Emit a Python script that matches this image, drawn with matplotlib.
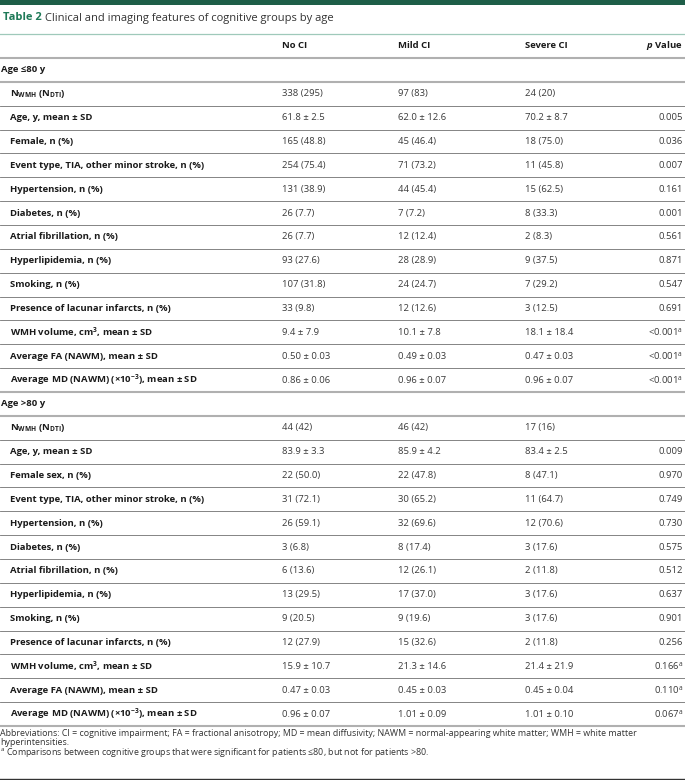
import matplotlib.pyplot as plt
from matplotlib.patches import Rectangle

plt.rcParams['font.family'] = ['Open Sans', 'DejaVu Sans']
plt.rcParams['mathtext.fontset'] = 'custom'
plt.rcParams['mathtext.rm'] = 'Open Sans'
plt.rcParams['mathtext.bf'] = 'Open Sans:bold'
plt.rcParams['mathtext.it'] = 'Open Sans:italic:bold'

# table data
columns = ['No CI', 'Mild CI', 'Severe CI']
groups = ['Age ≤80 y', 'Age >80 y']

labels_young = [r'N$_{\mathbf{WMH}}$ (N$_{\mathbf{DTI}}$)', 'Age, y, mean ± SD', 'Female, n (%)',
                'Event type, TIA, other minor stroke, n (%)', 'Hypertension, n (%)', 'Diabetes, n (%)',
                'Atrial fibrillation, n (%)', 'Hyperlipidemia, n (%)', 'Smoking, n (%)',
                'Presence of lacunar infarcts, n (%)', r'WMH volume, cm$^{\mathbf{3}}$, mean ± SD',
                'Average FA (NAWM), mean ± SD', r'Average MD (NAWM) (×10$^{\mathbf{-3}}$), mean ± SD']
labels_old = [r'N$_{\mathbf{WMH}}$ (N$_{\mathbf{DTI}}$)', 'Age, y, mean ± SD', 'Female sex, n (%)',
              'Event type, TIA, other minor stroke, n (%)', 'Hypertension, n (%)', 'Diabetes, n (%)',
              'Atrial fibrillation, n (%)', 'Hyperlipidemia, n (%)', 'Smoking, n (%)',
              'Presence of lacunar infarcts, n (%)', r'WMH volume, cm$^{\mathbf{3}}$, mean ± SD',
              'Average FA (NAWM), mean ± SD', r'Average MD (NAWM) (×10$^{\mathbf{-3}}$), mean ± SD']

no_ci_young = ['338 (295)', '61.8 ± 2.5', '165 (48.8)', '254 (75.4)', '131 (38.9)', '26 (7.7)',
               '26 (7.7)', '93 (27.6)', '107 (31.8)', '33 (9.8)', '9.4 ± 7.9', '0.50 ± 0.03', '0.86 ± 0.06']
mild_ci_young = ['97 (83)', '62.0 ± 12.6', '45 (46.4)', '71 (73.2)', '44 (45.4)', '7 (7.2)',
                 '12 (12.4)', '28 (28.9)', '24 (24.7)', '12 (12.6)', '10.1 ± 7.8', '0.49 ± 0.03', '0.96 ± 0.07']
severe_ci_young = ['24 (20)', '70.2 ± 8.7', '18 (75.0)', '11 (45.8)', '15 (62.5)', '8 (33.3)',
                   '2 (8.3)', '9 (37.5)', '7 (29.2)', '3 (12.5)', '18.1 ± 18.4', '0.47 ± 0.03', '0.96 ± 0.07']
p_young = ['', '0.005', '0.036', '0.007', '0.161', '0.001', '0.561', '0.871', '0.547', '0.691',
           '<0.001$^{\\mathrm{a}}$', '<0.001$^{\\mathrm{a}}$', '<0.001$^{\\mathrm{a}}$']

no_ci_old = ['44 (42)', '83.9 ± 3.3', '22 (50.0)', '31 (72.1)', '26 (59.1)', '3 (6.8)',
             '6 (13.6)', '13 (29.5)', '9 (20.5)', '12 (27.9)', '15.9 ± 10.7', '0.47 ± 0.03', '0.96 ± 0.07']
mild_ci_old = ['46 (42)', '85.9 ± 4.2', '22 (47.8)', '30 (65.2)', '32 (69.6)', '8 (17.4)',
               '12 (26.1)', '17 (37.0)', '9 (19.6)', '15 (32.6)', '21.3 ± 14.6', '0.45 ± 0.03', '1.01 ± 0.09']
severe_ci_old = ['17 (16)', '83.4 ± 2.5', '8 (47.1)', '11 (64.7)', '12 (70.6)', '3 (17.6)',
                 '2 (11.8)', '3 (17.6)', '3 (17.6)', '2 (11.8)', '21.4 ± 21.9', '0.45 ± 0.04', '1.01 ± 0.10']
p_old = ['', '0.009', '0.970', '0.749', '0.730', '0.575', '0.512', '0.637', '0.901', '0.256',
         '0.166$^{\\mathrm{a}}$', '0.110$^{\\mathrm{a}}$', '0.067$^{\\mathrm{a}}$']

footer = ['Abbreviations: CI = cognitive impairment; FA = fractional anisotropy; MD = mean diffusivity; '
          'NAWM = normal-appearing white matter; WMH = white matter',
          'hyperintensities.',
          '$^{\\mathrm{a}}$ Comparisons between cognitive groups that were significant for patients ≤80, '
          'but not for patients >80.']

W, H = 685, 780
fig = plt.figure(figsize=(W / 100, H / 100), dpi=100)
ax = fig.add_axes([0, 0, 1, 1])
ax.set_xlim(0, W)
ax.set_ylim(H, 0)
ax.axis('off')

green = '#1f7a58'
fs = 6.8
col_x = [282, 398, 525]
p_x = 683

# top bar and title
ax.add_patch(Rectangle((0, 0), W, 4.5, color='#1e5e48', lw=0))
t1 = ax.text(3, 18, 'Table 2', fontsize=8.0, fontweight='bold', color=green, va='center')
ax.annotate('Clinical and imaging features of cognitive groups by age', xy=(1, 0), xycoords=t1,
            xytext=(2.5, 0), textcoords='offset points', fontsize=8.0, color='#333333', va='bottom')
ax.axhline(34, color='#9fc9ba', lw=0.9)

# header
for x, c in zip(col_x, columns):
    ax.text(x, 46, c, fontsize=fs, fontweight='bold', color='#1a1a1a', va='center')
ax.text(p_x, 46, r'$\mathit{p}$ Value', fontsize=fs, fontweight='bold', color='#1a1a1a',
        va='center', ha='right')

top = 58
rh = (726 - top) / 28
rows = []
for g, labs, a, b, c, p in [(groups[0], labels_young, no_ci_young, mild_ci_young, severe_ci_young, p_young),
                            (groups[1], labels_old, no_ci_old, mild_ci_old, severe_ci_old, p_old)]:
    rows.append((g, None))
    for i in range(len(labs)):
        rows.append((labs[i], [a[i], b[i], c[i], p[i]]))

for i, (lab, vals) in enumerate(rows):
    yc = top + (i + 0.5) * rh
    if vals is None:
        ax.text(1, yc, lab, fontsize=fs, fontweight='bold', color='#1a1a1a', va='center')
    else:
        ax.text(10, yc, lab, fontsize=fs, fontweight='bold', color='#1a1a1a', va='center')
        for x, v in zip(col_x, vals[:3]):
            ax.text(x, yc, v, fontsize=fs, color='#3a3a3a', va='center')
        ax.text(p_x, yc, vals[3], fontsize=fs, color='#3a3a3a', va='center', ha='right')

# rules
ax.axhline(top, color='#b0b0b0', lw=1.5)
for i in range(1, len(rows) + 1):
    y = top + i * rh
    heavy = i == len(rows) or rows[i - 1][1] is None or (i < len(rows) and rows[i][1] is None)
    if heavy:
        ax.axhline(y, color='#b0b0b0', lw=1.5)
    else:
        ax.axhline(y, color='#707070', lw=0.6)

# footnotes
for k, line in enumerate(footer):
    ax.text(0, 733 + k * 9.6, line, fontsize=6.4, color='#333333', va='center')
ax.axhline(778.5, color='#333333', lw=1.0)

fig.savefig('out.png', dpi=100)
